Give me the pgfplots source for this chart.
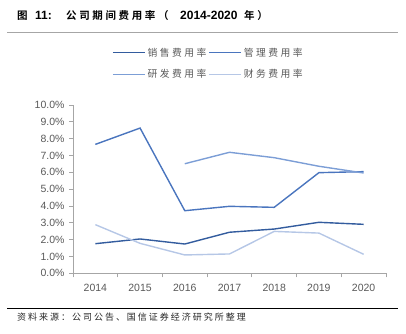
\documentclass[border=0pt]{standalone}
\usepackage{pgfplots}
\pgfplotsset{compat=1.18}
\usepackage{fontspec}
\setmainfont{Liberation Sans}
\newfontfamily\cjk{Noto Sans CJK SC}[BoldFont={Noto Sans CJK SC Bold}]
\newfontfamily\titlefont{Noto Sans CJK SC Bold}[LetterSpace=25]
\newfontfamily\titlenum{Liberation Sans Bold}
\newfontfamily\srcfont{Noto Sans CJK SC}[LetterSpace=22]
\newfontfamily\legfont{Noto Sans CJK SC}[LetterSpace=25]
\definecolor{cSales}{HTML}{335C9E}
\definecolor{cMgmt}{HTML}{4A75BE}
\definecolor{cRD}{HTML}{7C9ED6}
\definecolor{cFin}{HTML}{B6C7E6}
\definecolor{txt}{HTML}{595959}
\definecolor{axc}{HTML}{A6A6A6}
\begin{document}
\begin{tikzpicture}[x=1pt,y=1pt]
\useasboundingbox (0,0) rectangle (406,333);
% title
\begin{scope}[every node/.style={anchor=base west,inner sep=0pt}]
\node at (17,314) {\titlefont\fontsize{10.5}{13}\selectfont 图};
\node at (35,314) {\titlenum\fontsize{12}{13}\selectfont 11:};
\node at (66,314) {\titlefont\fontsize{10.5}{13}\selectfont 公司期间费用率（};
\node at (180,314) {\titlenum\fontsize{12}{13}\selectfont 2014-2020};
\node at (244,314) {\titlefont\fontsize{10.5}{13}\selectfont 年）};
\end{scope}
\draw[axc,line width=1pt] (7,301) -- (398,301);
\draw[black,line width=0.8pt] (7,25) -- (398,25);
\node[anchor=west,inner sep=0pt,text=black!85] at (17,16) {\srcfont\fontsize{9}{11}\selectfont 资料来源：公司公告、国信证券经济研究所整理};
\begin{axis}[
  at={(73pt,59.7pt)}, anchor=south west,
  scale only axis, width=313pt, height=168.3pt,
  xmin=2013.5, xmax=2020.5, ymin=0, ymax=10,
  axis x line=bottom, axis y line=left,
  axis line style={-, draw=axc, line width=0.8pt},
  xtick={2014,...,2020},
  xticklabel={\pgfmathprintnumber[assume math mode=true, 1000 sep={}]{\tick}},
  xticklabel style={/tikz/font=\fontsize{10.5}{12}\selectfont, /tikz/text=txt, /tikz/yshift=-3pt},
  major x tick style={draw=none},
  minor xtick={2013.5,2014.5,...,2020.5},
  minor x tick style={draw=axc, line width=0.8pt},
  minor tick length=4pt,
  tick align=outside,
  ytick={0,1,...,10},
  major y tick style={draw=axc, line width=0.8pt},
  major tick length=4pt,
  yticklabel={\pgfmathprintnumber[fixed, fixed zerofill, precision=1, assume math mode=true]{\tick}\%},
  yticklabel style={/tikz/font=\fontsize{10.5}{12}\selectfont, /tikz/text=txt, /tikz/xshift=-1pt},
  legend columns=2,
  legend style={at={(axis description cs:0.115,1.365)}, anchor=north west, draw=none, fill=none,
     font=\legfont\fontsize{9.8}{12}\selectfont, text=txt,
     /tikz/every even column/.append style={column sep=0pt},
     row sep=8pt},
  legend cell align=left,
  legend image code/.code={\draw[#1, line width=1.4pt] (0pt,0pt) -- (32pt,0pt);},
  every axis plot/.append style={line width=1.4pt, mark=none},
]
\addplot[cSales] coordinates {(2014,1.76)(2015,2.04)(2016,1.74)(2017,2.44)(2018,2.63)(2019,3.03)(2020,2.91)};
\addlegendentry{销售费用率}
\addplot[cMgmt] coordinates {(2014,7.66)(2015,8.63)(2016,3.72)(2017,3.98)(2018,3.92)(2019,5.98)(2020,6.04)};
\addlegendentry{管理费用率}
\addplot[cRD] coordinates {(2016,6.51)(2017,7.19)(2018,6.87)(2019,6.36)(2020,5.96)};
\addlegendentry{研发费用率}
\addplot[cFin] coordinates {(2014,2.89)(2015,1.78)(2016,1.09)(2017,1.15)(2018,2.49)(2019,2.39)(2020,1.13)};
\addlegendentry{财务费用率}
\end{axis}
\end{tikzpicture}
\end{document}
